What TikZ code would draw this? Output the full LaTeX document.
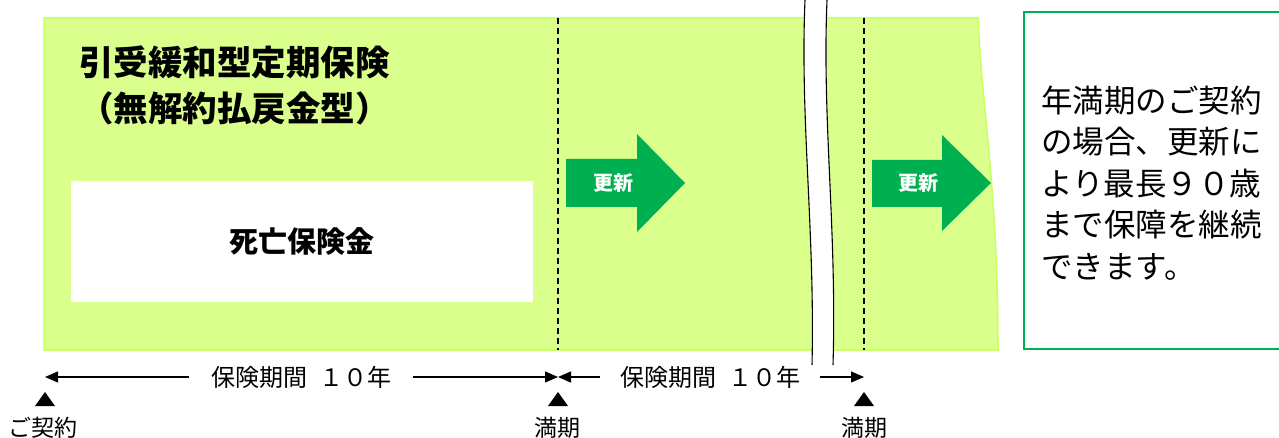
\documentclass[tikz,border=0pt]{standalone}
\usepackage{fontspec}
\setmainfont{Noto Sans CJK JP}
\usepackage{tikz}
\usetikzlibrary{positioning}
\usetikzlibrary{arrows.meta}
\definecolor{lime}{RGB}{218,255,140}
\definecolor{limeedge}{RGB}{200,255,100}
\definecolor{renew}{RGB}{0,176,80}
\tikzstyle{term} = [font=\fontsize{23}{26}\selectfont, inner sep=0pt]
\tikzstyle{period} = [font=\fontsize{24}{26}\selectfont, inner ysep=0pt, inner xsep=22pt]
\tikzstyle{line} = [draw, line width=1.2pt, -{Triangle[length=13pt,width=11pt]}]
\tikzstyle{cut} = [draw, dash pattern=on 6pt off 4pt, line width=1.4pt]
\tikzstyle{renewtext} = [text=white, font=\bfseries\fontsize{20}{22}\selectfont, inner sep=0pt]

\begin{document}
\begin{tikzpicture}[x=1pt, y=-1pt]
  \useasboundingbox (0,0) rectangle (1279,438);

    % band
    \fill[lime, draw=limeedge, line width=1.5pt] (44,18) -- (978,18)
      .. controls (982,110) and (998,190) .. (998,350) -- (44,350) -- cycle;
    \draw[cut] (558,18) -- (558,350);
    \draw[cut] (864,18) -- (864,350);

    % Place nodes
    \node [anchor=north west, align=left, inner sep=0pt,
      font=\bfseries\fontsize{34.5}{46}\selectfont] (ttl) at (79,46)
      {引受緩和型定期保険\\（無解約払戻金型）};
    \node [fill=white, minimum width=462pt, minimum height=121pt,
      font=\bfseries\fontsize{29}{30}\selectfont] (dbox) at (302,241.5) {死亡保険金};

    % renewal arrows
    \fill[renew] (566,159) -- (637,159) -- (637,134) -- (685,183)
      -- (637,232) -- (637,207) -- (566,207) -- cycle;
    \node [renewtext] (rn1) at (613,183) {更新};
    \fill[renew] (872,160) -- (942,160) -- (942,135) -- (991,183)
      -- (942,231) -- (942,207) -- (872,207) -- cycle;
    \node [renewtext] (rn2) at (918,183) {更新};

    % break
    \fill[white] (805,0) .. controls (800,120) and (815,230) .. (812,365)
      -- (833,365) .. controls (837,230) and (822,120) .. (827,0) -- cycle;
    \draw[line width=1.1pt] (805,0) .. controls (800,120) and (815,230) .. (812,365);
    \draw[line width=1.1pt] (827,0) .. controls (822,120) and (837,230) .. (833,365);

    % note
    \draw[renew, line width=2pt] (1024,12) rectangle (1284,349);
    \node [anchor=west, align=left, inner sep=0pt,
      font=\fontsize{31.5}{41.5}\selectfont] (note) at (1041,183)
      {年満期のご契約\\の場合、更新に\\より最長９０歳\\まで保障を継続\\できます。};

    % time line
    \coordinate (t0) at (45,377);
    \coordinate (t1) at (558,377);
    \coordinate (t2) at (864,377);
    \node [period] (per1) at (301,377) {保険期間\hspace{0.5em}１０年};
    \node [period, inner xsep=20pt] (per2) at (710,377) {保険期間\hspace{0.5em}１０年};
    \foreach \t in {t0,t1,t2}
      \fill (\t) ++(0,15) -- ++(10,14) -- ++(-20,0) -- cycle;
    \node [term] (start) at (43,428) {ご契約};
    \node [term] (end1) at (557,428) {満期};
    \node [term] (end2) at (864,428) {満期};

    % edges
    \path [line] (per1.west) -- (t0);
    \path [line] (per1.east) -- (t1);
    \path [line] (per2.west) -- (t1);
    \path [line] (per2.east) -- (t2);
\end{tikzpicture}
\end{document}
